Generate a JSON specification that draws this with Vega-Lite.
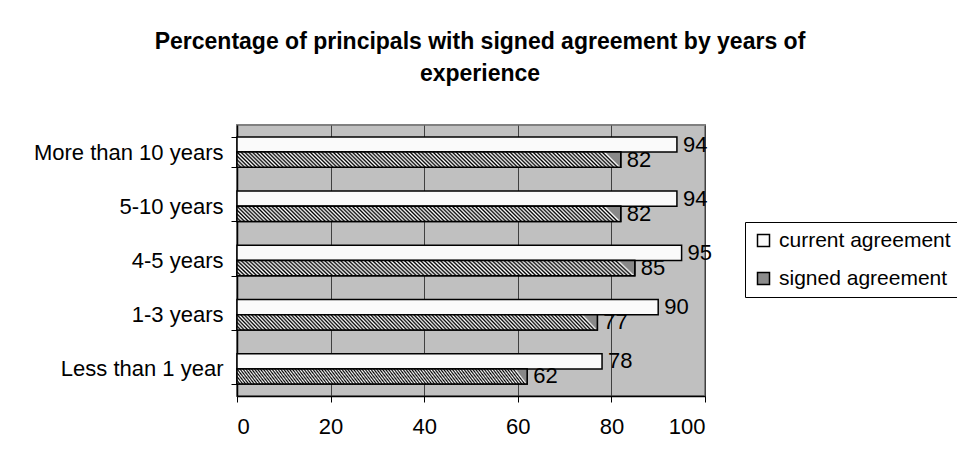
{
  "$schema": "https://vega.github.io/schema/vega-lite/v6.json",
  "width": 468,
  "height": 271,
  "autosize": {"type": "none"},
  "padding": {"left": 237, "top": 125, "right": 252, "bottom": 66},
  "background": "white",
  "config": {
    "font": "Liberation Sans",
    "view": {"fill": "#C0C0C0", "stroke": "#808080", "strokeWidth": 2}
  },
  "title": {
    "text": ["Percentage of principals with signed agreement by years of", "experience"],
    "fontSize": 23,
    "fontWeight": "bold",
    "font": "Liberation Sans",
    "color": "#000",
    "lineHeight": 32,
    "anchor": "middle",
    "dx": 9,
    "offset": 28
  },
  "data": {
    "values": [
      {"category": "More than 10 years", "series": "current agreement", "value": 94},
      {"category": "More than 10 years", "series": "signed agreement", "value": 82},
      {"category": "5-10 years", "series": "current agreement", "value": 94},
      {"category": "5-10 years", "series": "signed agreement", "value": 82},
      {"category": "4-5 years", "series": "current agreement", "value": 95},
      {"category": "4-5 years", "series": "signed agreement", "value": 85},
      {"category": "1-3 years", "series": "current agreement", "value": 90},
      {"category": "1-3 years", "series": "signed agreement", "value": 77},
      {"category": "Less than 1 year", "series": "current agreement", "value": 78},
      {"category": "Less than 1 year", "series": "signed agreement", "value": 62}
    ]
  },
  "encoding": {
    "y": {
      "field": "category",
      "type": "nominal",
      "sort": ["More than 10 years", "5-10 years", "4-5 years", "1-3 years", "Less than 1 year"],
      "scale": {"paddingInner": 0.44, "paddingOuter": 0.22},
      "axis": {
        "title": null,
        "domainColor": "#000",
        "domainWidth": 1.5,
        "tickColor": "#000",
        "tickBand": "extent",
        "tickSize": 6,
        "labelFontSize": 22,
        "labelColor": "#000",
        "labelPadding": 8,
        "labelLimit": 300
      }
    },
    "yOffset": {
      "field": "series",
      "type": "nominal",
      "sort": ["current agreement", "signed agreement"],
      "scale": {"paddingInner": 0, "paddingOuter": 0}
    },
    "x": {
      "field": "value",
      "type": "quantitative",
      "scale": {"domain": [0, 100], "nice": false},
      "axis": {
        "title": null,
        "values": [0, 20, 40, 60, 80, 100],
        "grid": true,
        "gridColor": "#404040",
        "gridWidth": 1,
        "domainColor": "#000",
        "domainWidth": 1.5,
        "tickColor": "#000",
        "tickSize": 6,
        "labelFontSize": 22,
        "labelColor": "#000",
        "labelPadding": 14
      }
    }
  },
  "layer": [
    {
      "mark": {"type": "bar", "stroke": "#000", "strokeWidth": 1.5},
      "encoding": {
        "color": {
          "field": "series",
          "type": "nominal",
          "sort": ["current agreement", "signed agreement"],
          "scale": {
            "domain": ["current agreement", "signed agreement"],
            "range": ["#FAFAFA", "#8C8C8C"]
          },
          "legend": {
            "title": null,
            "orient": "none",
            "legendX": 508,
            "legendY": 97,
            "strokeColor": "#000",
            "fillColor": "#fff",
            "padding": 8,
            "rowPadding": 16,
            "symbolType": "square",
            "symbolSize": 144,
            "symbolStrokeColor": "#000",
            "symbolStrokeWidth": 1.5,
            "symbolOpacity": 1,
            "labelFontSize": 21,
            "labelColor": "#000",
            "labelOffset": 5,
            "labelLimit": 400
          }
        }
      }
    },
    {
      "transform": [{"filter": "datum.series === 'signed agreement'"}],
      "mark": {
        "type": "bar",
        "stroke": "#000",
        "strokeWidth": 1.5,
        "fill": {"gradient": "linear", "x1": 0, "y1": 1, "x2": 1, "y2": 0.96, "stops": [
{"offset":0,"color":"#888"},{"offset":0.005,"color":"#fff"},{"offset":0.01,"color":"#000"},{"offset":0.015,"color":"#fff"},{"offset":0.02,"color":"#000"},{"offset":0.025,"color":"#fff"},{"offset":0.03,"color":"#000"},{"offset":0.035,"color":"#fff"},{"offset":0.04,"color":"#000"},{"offset":0.045,"color":"#fff"},
{"offset":0.05,"color":"#000"},{"offset":0.055,"color":"#fff"},{"offset":0.06,"color":"#000"},{"offset":0.065,"color":"#fff"},{"offset":0.07,"color":"#000"},{"offset":0.075,"color":"#fff"},{"offset":0.08,"color":"#000"},{"offset":0.085,"color":"#fff"},{"offset":0.09,"color":"#000"},{"offset":0.095,"color":"#fff"},
{"offset":0.1,"color":"#000"},{"offset":0.105,"color":"#fff"},{"offset":0.11,"color":"#000"},{"offset":0.115,"color":"#fff"},{"offset":0.12,"color":"#000"},{"offset":0.125,"color":"#fff"},{"offset":0.13,"color":"#000"},{"offset":0.135,"color":"#fff"},{"offset":0.14,"color":"#000"},{"offset":0.145,"color":"#fff"},
{"offset":0.15,"color":"#000"},{"offset":0.155,"color":"#fff"},{"offset":0.16,"color":"#000"},{"offset":0.165,"color":"#fff"},{"offset":0.17,"color":"#000"},{"offset":0.175,"color":"#fff"},{"offset":0.18,"color":"#000"},{"offset":0.185,"color":"#fff"},{"offset":0.19,"color":"#000"},{"offset":0.195,"color":"#fff"},
{"offset":0.2,"color":"#000"},{"offset":0.205,"color":"#fff"},{"offset":0.21,"color":"#000"},{"offset":0.215,"color":"#fff"},{"offset":0.22,"color":"#000"},{"offset":0.225,"color":"#fff"},{"offset":0.23,"color":"#000"},{"offset":0.235,"color":"#fff"},{"offset":0.24,"color":"#000"},{"offset":0.245,"color":"#fff"},
{"offset":0.25,"color":"#000"},{"offset":0.255,"color":"#fff"},{"offset":0.26,"color":"#000"},{"offset":0.265,"color":"#fff"},{"offset":0.27,"color":"#000"},{"offset":0.275,"color":"#fff"},{"offset":0.28,"color":"#000"},{"offset":0.285,"color":"#fff"},{"offset":0.29,"color":"#000"},{"offset":0.295,"color":"#fff"},
{"offset":0.3,"color":"#000"},{"offset":0.305,"color":"#fff"},{"offset":0.31,"color":"#000"},{"offset":0.315,"color":"#fff"},{"offset":0.32,"color":"#000"},{"offset":0.325,"color":"#fff"},{"offset":0.33,"color":"#000"},{"offset":0.335,"color":"#fff"},{"offset":0.34,"color":"#000"},{"offset":0.345,"color":"#fff"},
{"offset":0.35,"color":"#000"},{"offset":0.355,"color":"#fff"},{"offset":0.36,"color":"#000"},{"offset":0.365,"color":"#fff"},{"offset":0.37,"color":"#000"},{"offset":0.375,"color":"#fff"},{"offset":0.38,"color":"#000"},{"offset":0.385,"color":"#fff"},{"offset":0.39,"color":"#000"},{"offset":0.395,"color":"#fff"},
{"offset":0.4,"color":"#000"},{"offset":0.405,"color":"#fff"},{"offset":0.41,"color":"#000"},{"offset":0.415,"color":"#fff"},{"offset":0.42,"color":"#000"},{"offset":0.425,"color":"#fff"},{"offset":0.43,"color":"#000"},{"offset":0.435,"color":"#fff"},{"offset":0.44,"color":"#000"},{"offset":0.445,"color":"#fff"},
{"offset":0.45,"color":"#000"},{"offset":0.455,"color":"#fff"},{"offset":0.46,"color":"#000"},{"offset":0.465,"color":"#fff"},{"offset":0.47,"color":"#000"},{"offset":0.475,"color":"#fff"},{"offset":0.48,"color":"#000"},{"offset":0.485,"color":"#fff"},{"offset":0.49,"color":"#000"},{"offset":0.495,"color":"#fff"},
{"offset":0.5,"color":"#000"},{"offset":0.505,"color":"#fff"},{"offset":0.51,"color":"#000"},{"offset":0.515,"color":"#fff"},{"offset":0.52,"color":"#000"},{"offset":0.525,"color":"#fff"},{"offset":0.53,"color":"#000"},{"offset":0.535,"color":"#fff"},{"offset":0.54,"color":"#000"},{"offset":0.545,"color":"#fff"},
{"offset":0.55,"color":"#000"},{"offset":0.555,"color":"#fff"},{"offset":0.56,"color":"#000"},{"offset":0.565,"color":"#fff"},{"offset":0.57,"color":"#000"},{"offset":0.575,"color":"#fff"},{"offset":0.58,"color":"#000"},{"offset":0.585,"color":"#fff"},{"offset":0.59,"color":"#000"},{"offset":0.595,"color":"#fff"},
{"offset":0.6,"color":"#000"},{"offset":0.605,"color":"#fff"},{"offset":0.61,"color":"#000"},{"offset":0.615,"color":"#fff"},{"offset":0.62,"color":"#000"},{"offset":0.625,"color":"#fff"},{"offset":0.63,"color":"#000"},{"offset":0.635,"color":"#fff"},{"offset":0.64,"color":"#000"},{"offset":0.645,"color":"#fff"},
{"offset":0.65,"color":"#000"},{"offset":0.655,"color":"#fff"},{"offset":0.66,"color":"#000"},{"offset":0.665,"color":"#fff"},{"offset":0.67,"color":"#000"},{"offset":0.675,"color":"#fff"},{"offset":0.68,"color":"#000"},{"offset":0.685,"color":"#fff"},{"offset":0.69,"color":"#000"},{"offset":0.695,"color":"#fff"},
{"offset":0.7,"color":"#000"},{"offset":0.705,"color":"#fff"},{"offset":0.71,"color":"#000"},{"offset":0.715,"color":"#fff"},{"offset":0.72,"color":"#000"},{"offset":0.725,"color":"#fff"},{"offset":0.73,"color":"#000"},{"offset":0.735,"color":"#fff"},{"offset":0.74,"color":"#000"},{"offset":0.745,"color":"#fff"},
{"offset":0.75,"color":"#000"},{"offset":0.755,"color":"#fff"},{"offset":0.76,"color":"#000"},{"offset":0.765,"color":"#fff"},{"offset":0.77,"color":"#000"},{"offset":0.775,"color":"#fff"},{"offset":0.78,"color":"#000"},{"offset":0.785,"color":"#fff"},{"offset":0.79,"color":"#000"},{"offset":0.795,"color":"#fff"},
{"offset":0.8,"color":"#000"},{"offset":0.805,"color":"#fff"},{"offset":0.81,"color":"#000"},{"offset":0.815,"color":"#fff"},{"offset":0.82,"color":"#000"},{"offset":0.825,"color":"#fff"},{"offset":0.83,"color":"#000"},{"offset":0.835,"color":"#fff"},{"offset":0.84,"color":"#000"},{"offset":0.845,"color":"#fff"},
{"offset":0.85,"color":"#000"},{"offset":0.855,"color":"#fff"},{"offset":0.86,"color":"#000"},{"offset":0.865,"color":"#fff"},{"offset":0.87,"color":"#000"},{"offset":0.875,"color":"#fff"},{"offset":0.88,"color":"#000"},{"offset":0.885,"color":"#fff"},{"offset":0.89,"color":"#000"},{"offset":0.895,"color":"#fff"},
{"offset":0.9,"color":"#000"},{"offset":0.905,"color":"#fff"},{"offset":0.91,"color":"#000"},{"offset":0.915,"color":"#fff"},{"offset":0.92,"color":"#000"},{"offset":0.925,"color":"#fff"},{"offset":0.93,"color":"#000"},{"offset":0.935,"color":"#fff"},{"offset":0.94,"color":"#000"},{"offset":0.945,"color":"#fff"},
{"offset":0.95,"color":"#000"},{"offset":0.955,"color":"#fff"},{"offset":0.96,"color":"#000"},{"offset":0.965,"color":"#fff"},{"offset":0.97,"color":"#000"},{"offset":0.975,"color":"#fff"},{"offset":0.98,"color":"#000"},{"offset":0.985,"color":"#fff"},{"offset":0.99,"color":"#000"},{"offset":0.995,"color":"#fff"},{"offset":1,"color":"#888"}
        ]}
      }
    },
    {
      "mark": {"type": "text", "align": "left", "baseline": "middle", "dx": 6, "fontSize": 22, "color": "#000"},
      "encoding": {
        "text": {"field": "value", "type": "quantitative"}
      }
    }
  ]
}
